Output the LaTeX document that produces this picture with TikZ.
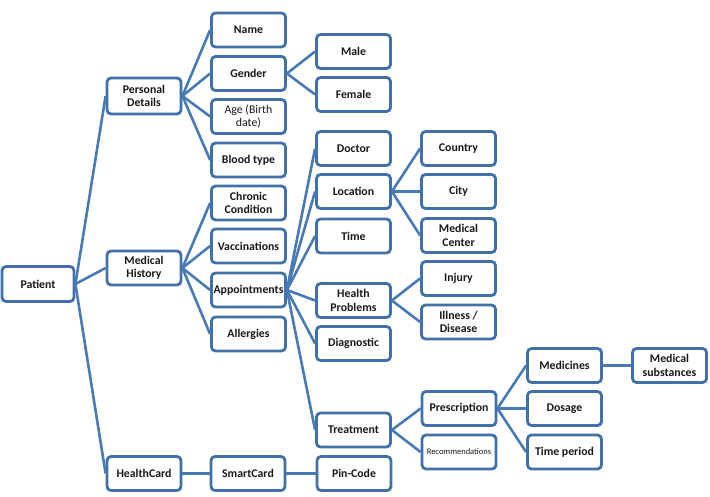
\documentclass[tikz,border=0pt]{standalone}
\usepackage{fontspec}
\setmainfont{Carlito}
\definecolor{boxblue}{RGB}{66,112,170}
\definecolor{lineblue}{RGB}{74,122,182}
\tikzset{
  box/.style={draw=boxblue, line width=2.8pt, rounded corners=4pt, fill=white,
    minimum width=74pt, minimum height=34pt, inner sep=1pt, align=center,
    font=\fontsize{11.8}{13.5}\selectfont\bfseries, text=black!90},
  plainbox/.style={box, font=\fontsize{11.8}{13.5}\selectfont},
  link/.style={draw=lineblue, line width=2.6pt},
}
\begin{document}
\begin{tikzpicture}[x=1pt,y=-1pt]
\useasboundingbox (0,0) rectangle (710,497);
% column 1
\node[box, minimum width=72pt, minimum height=35pt] (patient) at (38,284) {Patient};
% column 2
\node[box, minimum height=36pt] (pers) at (144,96) {Personal\\Details};
\node[box] (medh) at (144,268) {Medical\\History};
\node[box] (hc) at (144,473.5) {HealthCard};
% column 3
\node[box] (name) at (248.5,30) {Name};
\node[box] (gender) at (248.5,73.5) {Gender};
\node[plainbox] (age) at (248.5,116.5) {Age (Birth\\date)};
\node[box] (blood) at (248.5,160) {Blood type};
\node[box] (chronic) at (248.5,203) {Chronic\\Condition};
\node[box] (vacc) at (248.5,246) {Vaccinations};
\node[box] (appt) at (248.5,290) {Appointments};
\node[box] (allerg) at (248.5,334) {Allergies};
\node[box] (smart) at (248,473.5) {SmartCard};
% column 4
\node[box] (male) at (353.5,51.5) {Male};
\node[box] (female) at (353.5,94.5) {Female};
\node[box] (doctor) at (353.5,148.5) {Doctor};
\node[box] (loc) at (353.5,191.5) {Location};
\node[box] (time) at (353.5,236) {Time};
\node[box] (health) at (353.5,300.5) {Health\\Problems};
\node[box] (diag) at (353.5,343.5) {Diagnostic};
\node[box] (treat) at (353.5,430) {Treatment};
\node[box] (pin) at (354,473.5) {Pin-Code};
% column 5
\node[box] (country) at (458.5,148.5) {Country};
\node[box] (city) at (458.5,191.5) {City};
\node[box] (medc) at (458.5,235.5) {Medical\\Center};
\node[box] (injury) at (458.5,278.5) {Injury};
\node[box] (illness) at (458.5,322) {Illness /\\Disease};
\node[box] (presc) at (459,408.5) {Prescription};
\node[box, font=\fontsize{8.5}{10}\selectfont] (recom) at (459,452) {Recommendations};
% column 6
\node[box] (medi) at (564.5,365.5) {Medicines};
\node[box] (dosage) at (564.5,408.5) {Dosage};
\node[box] (tperiod) at (564.5,452) {Time period};
% column 7
\node[box] (subst) at (669.5,365.5) {Medical\\substances};
% connectors
\foreach \p/\c in {patient/pers, patient/medh, patient/hc,
  pers/name, pers/gender, pers/age, pers/blood,
  gender/male, gender/female,
  medh/chronic, medh/vacc, medh/appt, medh/allerg,
  appt/doctor, appt/loc, appt/time, appt/health, appt/diag, appt/treat,
  loc/country, loc/city, loc/medc,
  health/injury, health/illness,
  treat/presc, treat/recom,
  presc/medi, presc/dosage, presc/tperiod,
  medi/subst, hc/smart, smart/pin}
  \draw[link] (\p.east) -- (\c.west);
\end{tikzpicture}
\end{document}
